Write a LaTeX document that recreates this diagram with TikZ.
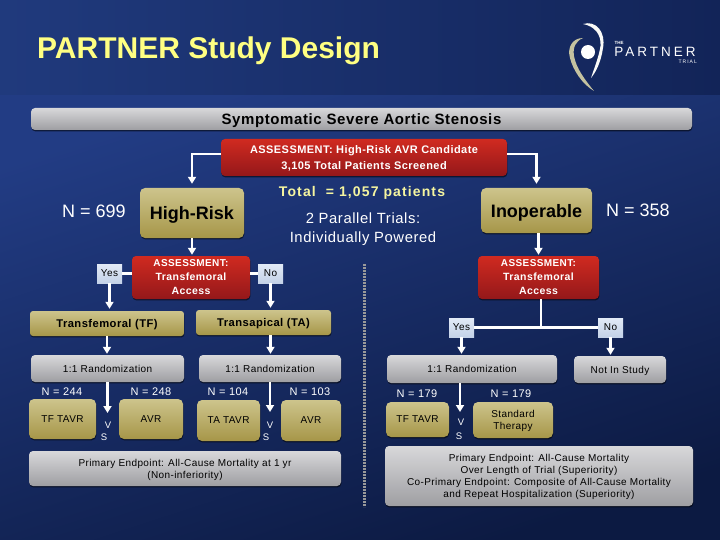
\documentclass[tikz,border=0pt]{standalone}
\usepackage{fontspec}
\setmainfont{Liberation Sans}
\newfontfamily\lsf[LetterSpace=8]{Liberation Sans}
\newfontfamily\lsg[LetterSpace=4]{Liberation Sans}
\usetikzlibrary{arrows.meta,shadows,calc}
\definecolor{bgA}{RGB}{34,60,132}
\definecolor{bgB}{RGB}{12,26,66}
\definecolor{hdA}{RGB}{32,58,125}
\definecolor{hdB}{RGB}{18,36,88}
\definecolor{ttl}{RGB}{255,255,130}
\definecolor{totl}{RGB}{245,245,160}
\definecolor{redT}{RGB}{208,42,32}
\definecolor{redB}{RGB}{148,24,26}
\definecolor{goldT}{RGB}{205,196,140}
\definecolor{goldB}{RGB}{166,150,72}
\definecolor{grayT}{RGB}{216,216,218}
\definecolor{grayB}{RGB}{158,158,162}
\definecolor{pale}{RGB}{226,234,246}
\definecolor{paleB}{RGB}{196,210,232}
\definecolor{logoT}{RGB}{196,194,160}
\tikzset{
  base/.style={draw=none,inner sep=0pt,align=center,rounded corners=4pt,text depth=-1pt,
    drop shadow={shadow xshift=0.4pt,shadow yshift=-1.4pt,fill=black,opacity=.55}},
  redbox/.style={base,top color=redT,bottom color=redB,text=white},
  goldbox/.style={base,top color=goldT,bottom color=goldB,text=black,rounded corners=5pt},
  graybox/.style={base,top color=grayT,bottom color=grayB,text=black},
  palebox/.style={base,top color=pale,bottom color=paleB,text=black,rounded corners=0pt},
  wire/.style={draw=white,line width=2.6pt},
  arrowline/.style={wire,-{Triangle[length=7pt,width=8pt]}},
  lbl/.style={text=white,inner sep=0pt,align=center},
  nlbl/.style={lbl,font=\lsg\fontsize{11}{12}\selectfont},
  big/.style={lbl,font=\fontsize{18}{20}\selectfont},
  small/.style={font=\lsg\fontsize{10}{12}\selectfont},
  vslbl/.style={lbl,font=\fontsize{9.5}{11}\selectfont},
}
\newcommand{\bx}[7]{%
  \pgfmathsetmacro{\bcx}{(#3+#5)/2}\pgfmathsetmacro{\bcy}{(#4+#6)/2}%
  \pgfmathsetmacro{\bw}{#5-#3}\pgfmathsetmacro{\bh}{#6-#4}%
  \node[#1,minimum width=\bw pt,minimum height=\bh pt] (#2) at (\bcx,\bcy) {#7};}
\begin{document}
\begin{tikzpicture}[x=1pt,y=-1pt]
\useasboundingbox (0,0) rectangle (720,540);
% backgrounds
\shade[left color=hdA,right color=hdB] (0,0) rectangle (720,96);
\shade[shading=axis,left color=bgA,right color=bgB,shading angle=18] (0,96) rectangle (720,540);
% title
\node[anchor=west,inner sep=0pt,text=ttl,font=\bfseries\fontsize{30}{34}\selectfont] (title) at (37,51) {PARTNER Study Design};
% logo
\fill[white!92!logoT] (583,24) .. controls (596,20) and (606,32) .. (603,48) .. controls (601,62) and (596,72) .. (591,78) .. controls (595,66) and (599,56) .. (600.5,46) .. controls (601.5,34) and (594,26) .. (583,24) -- cycle;
\fill[logoT] (583,38) .. controls (572,38) and (567,48) .. (570,58) .. controls (573,70) and (582,84) .. (594,91) .. controls (585,80) and (576,68) .. (574,56) .. controls (572.5,47) and (576,41) .. (583,38) -- cycle;
\fill[white] (588,52) circle (7);
\node[inner sep=0pt,text=white,font=\bfseries\fontsize{4.5}{5}\selectfont] (lthe) at (619,43) {THE};
\node[inner sep=0pt,text=white,font=\fontsize{13.5}{14}\selectfont\addfontfeature{LetterSpace=22}] (lpart) at (655,52) {PARTNER};
\node[anchor=east,inner sep=0pt,text=white,font=\fontsize{5}{6}\selectfont\addfontfeature{LetterSpace=20}] (ltrial) at (697,62) {TRIAL};
% top
\bx{graybox,font=\bfseries\lsg\fontsize{15}{16}\selectfont}{sas}{31}{108}{692}{130}{Symptomatic Severe Aortic Stenosis}
\bx{redbox,font=\lsg\bfseries\fontsize{11}{15.5}\selectfont}{scr}{221}{139}{507}{176}{ASSESSMENT: High-Risk AVR Candidate\\3,105 Total Patients Screened}
\node[inner sep=0pt,text=totl,font=\lsf\bfseries\fontsize{14}{16}\selectfont] (total) at (362,193) {Total\ \ = 1,057 patients};
\node[lbl,font=\lsg\fontsize{14.8}{19}\selectfont] (par) at (363,229.5) {2 Parallel Trials:\\Individually Powered};
\node[big] (n699) at (94,211) {N = 699};
\node[big] (n358) at (638,210) {N = 358};
% left branch
\bx{goldbox,font=\bfseries\fontsize{18}{20}\selectfont}{hr}{140}{188}{244}{238}{High-Risk}
\bx{redbox,font=\lsg\bfseries\fontsize{10.5}{14}\selectfont}{al}{132}{256}{250}{299}{{\fontsize{10}{14}\selectfont ASSESSMENT:}\\Transfemoral\\Access}
\bx{palebox,small}{yl}{97}{264}{122}{283}{Yes}
\bx{palebox,small}{nl}{258}{264}{283}{283}{No}
\bx{goldbox,rounded corners=3pt,font=\lsg\bfseries\fontsize{11.2}{12}\selectfont}{tf}{30}{311}{184}{336}{Transfemoral (TF)}
\bx{goldbox,rounded corners=3pt,font=\lsg\bfseries\fontsize{11.2}{12}\selectfont}{ta}{196}{310}{331}{335}{Transapical (TA)}
\bx{graybox,small}{rl}{31}{355}{184}{382}{1:1 Randomization}
\bx{graybox,small}{rm}{199}{355}{341}{382}{1:1 Randomization}
\node[nlbl] (n244) at (62,392) {N = 244};
\node[nlbl] (n248) at (151,392) {N = 248};
\node[nlbl] (n104) at (228,392) {N = 104};
\node[nlbl] (n103) at (310,392) {N = 103};
\bx{goldbox,small}{tftavr}{29}{399}{96}{439}{TF TAVR}
\bx{goldbox,small}{avra}{119}{399}{183}{439}{AVR}
\bx{goldbox,small}{tatavr}{197}{400}{260}{441}{TA TAVR}
\bx{goldbox,small}{avrb}{281}{400}{341}{441}{AVR}
\node[vslbl] (va) at (108,425) {V};
\node[vslbl] (sa) at (104,437) {S};
\node[vslbl] (vb) at (270,425) {V};
\node[vslbl] (sb) at (266,437) {S};
\bx{graybox,small}{epl}{29}{451}{341}{486}{Primary Endpoint: All-Cause Mortality at 1 yr\\(Non-inferiority)}
% right branch
\bx{goldbox,font=\bfseries\fontsize{18}{20}\selectfont}{ino}{481}{188}{592}{233}{Inoperable}
\bx{redbox,font=\lsg\bfseries\fontsize{10.5}{14}\selectfont}{ar}{478}{256}{599}{299}{{\fontsize{10}{14}\selectfont ASSESSMENT:}\\Transfemoral\\Access}
\bx{palebox,small}{yr}{449}{318}{474}{337}{Yes}
\bx{palebox,small}{nr}{598}{318}{623}{337}{No}
\bx{graybox,small}{rr}{387}{355}{557}{383}{1:1 Randomization}
\bx{graybox,small}{nis}{574}{356}{666}{383}{Not In Study}
\node[nlbl] (n179a) at (417,394) {N = 179};
\node[nlbl] (n179b) at (511,394) {N = 179};
\bx{goldbox,small}{tftavrb}{386}{402}{449}{437}{TF TAVR}
\bx{goldbox,small}{std}{473}{402}{553}{438}{Standard\\Therapy}
\node[vslbl] (vc) at (461,422) {V};
\node[vslbl] (sc) at (459,436) {S};
\bx{graybox,small}{epr}{385}{446}{693}{506}{Primary Endpoint: All-Cause Mortality\\Over Length of Trial (Superiority)\\Co-Primary Endpoint: Composite of All-Cause Mortality\\and Repeat Hospitalization (Superiority)}
% separator
\coordinate (sept) at (364,264);
\coordinate (sepb) at (364,507);
\draw[draw=black!40,line width=3pt,dash pattern=on 2pt off 1pt] (sept) -- (sepb);
% connectors
\draw[arrowline,shorten >=4pt] ([yshift=3.5pt]scr.west) -| (hr.north);
\draw[arrowline,shorten >=4pt] ([yshift=3.5pt]scr.east) -| (ino.north);
\draw[arrowline,shorten >=1pt] (hr.south) -- (hr.south |- al.north);
\draw[arrowline,shorten >=1pt] (ino.south -| ar.north) -- (ar.north);
\draw[wire] (yl.east) -- (yl.east -| al.west);
\draw[wire] (nl.west) -- (nl.west -| al.east);
\draw[arrowline,shorten >=2pt] (yl.south) -- (yl.south |- tf.north);
\draw[arrowline,shorten >=2pt] (nl.south) -- (nl.south |- ta.north);
\draw[arrowline,shorten >=1pt] (tf.south) -- (tf.south |- rl.north);
\draw[arrowline,shorten >=1pt] (nl.south |- ta.south) -- (nl.south |- rm.north);
\coordinate (aa) at (107.5,413);
\coordinate (ab) at (270,412);
\coordinate (ac) at (460,412);
\draw[arrowline] (rl.south) -- (aa);
\draw[arrowline] (rm.south) -- (ab);
\draw[arrowline] (rr.south -| ac) -- (ac);
\coordinate (jn) at ($(ar.south)+(2.5,0)$);
\draw[wire,line width=2.2pt] (jn) -- (jn |- yr.east);
\draw[wire,line width=2.2pt] (yr.east) -- (nr.west);
\draw[arrowline,shorten >=1pt] (yr.south) -- (yr.south |- rr.north);
\draw[arrowline,shorten >=1pt] (nr.south) -- (nr.south |- nis.north);
\end{tikzpicture}
\end{document}
